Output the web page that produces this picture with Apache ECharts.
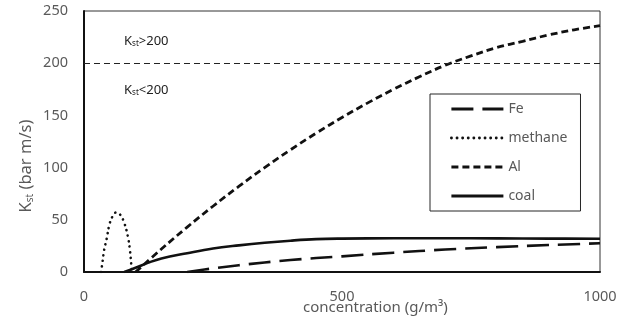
<!DOCTYPE html>
<html>
<head>
<meta charset="utf-8">
<script src="https://cdn.jsdelivr.net/npm/echarts@6/dist/echarts.min.js"></script>
<style>
  html, body { margin: 0; padding: 0; background: #fff; }
  #chart { width: 630px; height: 322px; }
</style>
</head>
<body>
<div id="chart"></div>
<script>
// Deflagration index K_st versus dust/gas concentration
const xTicks = [0, 500, 1000];
const yTicks = [0, 50, 100, 150, 200, 250];
const seriesNames = ['Fe', 'methane', 'Al', 'coal'];

const feConc = [200, 250, 300, 400, 500, 600, 700, 800, 900, 1000];
const feKst  = [0, 3.5, 6.5, 11.5, 15, 18.5, 21.5, 23.8, 25.8, 27.5];

const methaneConc = [33, 36, 39, 44, 49, 55, 62, 70, 78, 85, 89, 92, 93];
const methaneKst  = [0, 10, 21, 32, 45, 53, 57, 55, 47, 34, 21, 5, 0];

const alConc = [100, 150, 200, 250, 300, 350, 400, 450, 500, 550, 600, 650, 700, 750, 800, 850, 900, 950, 1000];
const alKst  = [0, 22, 43, 63, 82, 100, 117, 133, 148, 162, 175, 187, 198, 207, 215, 221, 227, 232, 236];

const coalConc = [78, 100, 125, 150, 200, 250, 300, 350, 400, 450, 500, 600, 700, 800, 900, 1000];
const coalKst  = [0, 4, 9, 13, 18, 22.5, 25.5, 28, 30, 31.5, 32, 32.3, 32.3, 32.2, 32, 31.8];

const thresholdKst = 200;

const pairs = (xs, ys) => xs.map((x, i) => [x, ys[i]]);

const ink = '#111';
const grey = '#595959';
const font = 'Noto Sans';

const chart = echarts.init(document.getElementById('chart'), null, { renderer: 'canvas' });

chart.setOption({
  animation: false,
  backgroundColor: '#fff',
  grid: {
    left: 84, right: 30, top: 11, bottom: 50,
    show: true, borderColor: '#333', borderWidth: 1
  },
  xAxis: {
    type: 'value', min: xTicks[0], max: xTicks[xTicks.length - 1], interval: 500,
    axisLine: { show: true, lineStyle: { color: ink, width: 2 } },
    axisTick: { show: false },
    splitLine: { show: false },
    axisLabel: { color: grey, fontFamily: font, fontSize: 14.5, margin: 17, formatter: v => String(v) }
  },
  yAxis: {
    type: 'value', min: yTicks[0], max: yTicks[yTicks.length - 1], interval: 50,
    axisLine: { show: true, lineStyle: { color: ink, width: 2 } },
    axisTick: { show: false },
    splitLine: { show: false },
    axisLabel: { color: grey, fontFamily: font, fontSize: 14.5, margin: 16 }
  },
  legend: {
    orient: 'vertical',
    left: 430, top: 94,
    data: seriesNames,
    itemWidth: 52, itemHeight: 14, itemGap: 15,
    padding: [8, 13, 8, 20],
    borderColor: '#262626', borderWidth: 1,
    backgroundColor: '#fff',
    itemStyle: { opacity: 0 },
    lineStyle: { width: 2.8 },
    textStyle: { color: grey, fontFamily: font, fontSize: 14 }
  },
  graphic: [
    {
      type: 'text', x: 26, y: 166, rotation: Math.PI / 2,
      style: {
        text: '{k|K}{s|st}{k| (bar m/s)}',
        align: 'center', verticalAlign: 'middle',
        rich: {
          k: { fontFamily: font, fontSize: 16.5, fill: grey },
          s: { fontFamily: font, fontSize: 10, fill: grey, padding: [9, 0, 0, 0] }
        }
      }
    },
    {
      type: 'text', left: 303, top: 300,
      style: {
        text: 'concentration (g/m³)',
        font: '15px "Noto Sans"', fill: grey
      }
    },
    {
      type: 'text', left: 124, top: 35,
      style: {
        text: '{k|K}{s|st}{k|>200}',
        rich: {
          k: { fontFamily: font, fontSize: 13, fill: '#222' },
          s: { fontFamily: font, fontSize: 8, fill: '#222', padding: [5, 0, 0, 0] }
        }
      }
    },
    {
      type: 'text', left: 124, top: 84,
      style: {
        text: '{k|K}{s|st}{k|<200}',
        rich: {
          k: { fontFamily: font, fontSize: 13, fill: '#222' },
          s: { fontFamily: font, fontSize: 8, fill: '#222', padding: [5, 0, 0, 0] }
        }
      }
    }
  ],
  series: [
    {
      name: 'Fe', type: 'line', data: pairs(feConc, feKst),
      smooth: 0.4, symbol: 'none', color: ink,
      lineStyle: { color: ink, width: 2.6, type: [22, 9] }
    },
    {
      name: 'methane', type: 'line', data: pairs(methaneConc, methaneKst),
      smooth: 0.4, symbol: 'none', color: ink,
      lineStyle: { color: ink, width: 2.6, type: [0.1, 5.5], cap: 'round' }
    },
    {
      name: 'Al', type: 'line', data: pairs(alConc, alKst),
      smooth: 0.4, symbol: 'none', color: ink,
      lineStyle: { color: ink, width: 2.8, type: [7, 4] },
      markLine: {
        silent: true, symbol: 'none', label: { show: false },
        lineStyle: { color: '#222', width: 1.2, type: [6, 4] },
        data: [{ yAxis: thresholdKst }]
      }
    },
    {
      name: 'coal', type: 'line', data: pairs(coalConc, coalKst),
      smooth: 0.4, symbol: 'none', color: ink,
      lineStyle: { color: ink, width: 2.6, type: 'solid' }
    }
  ]
});
</script>
</body>
</html>
